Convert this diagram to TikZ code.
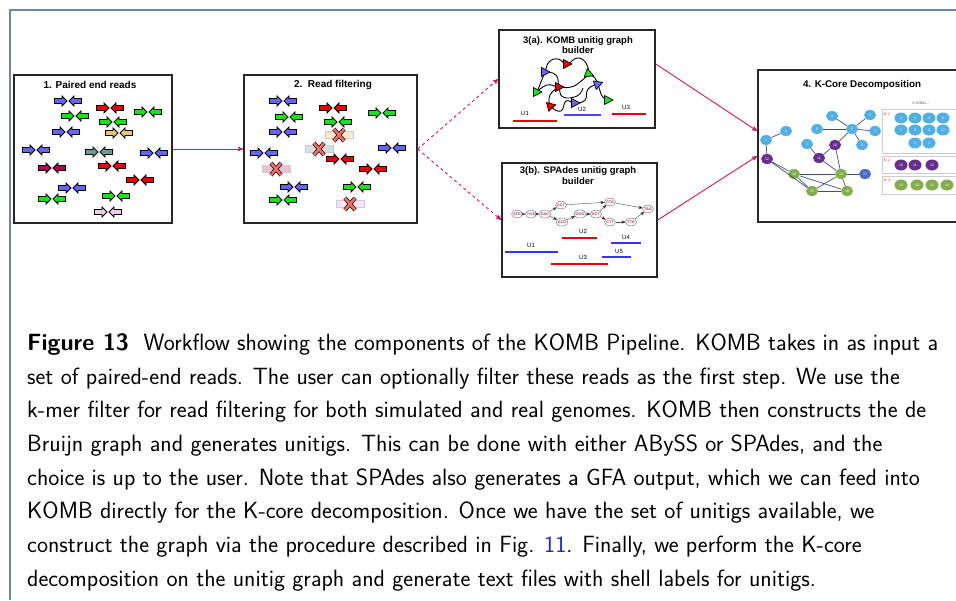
\documentclass[tikz,border=0pt]{standalone}
\usepackage{fontspec}
\newfontfamily\labelfont{Liberation Sans}
\usetikzlibrary{arrows,shapes,positioning}
\definecolor{framecol}{RGB}{105,135,175}
\definecolor{flowpink}{RGB}{214,20,100}
\definecolor{readblue}{RGB}{100,100,245}
\definecolor{readgreen}{RGB}{20,230,20}
\definecolor{readred}{RGB}{240,0,0}
\definecolor{readgold}{RGB}{240,195,100}
\definecolor{readteal}{RGB}{105,155,150}
\definecolor{readmaroon}{RGB}{175,0,90}
\definecolor{readpink}{RGB}{245,200,240}
\definecolor{crossred}{RGB}{240,110,100}
\definecolor{kmertext}{RGB}{190,40,110}
\definecolor{shellblue}{RGB}{80,175,230}
\definecolor{shellpurple}{RGB}{105,45,145}
\definecolor{shellgreen}{RGB}{130,175,75}
\definecolor{shelldark}{RGB}{70,110,190}
\definecolor{graphedge}{RGB}{60,80,125}
\definecolor{figref}{RGB}{30,30,230}
\tikzset{
  stage/.style={draw=black!85,line width=1.5pt,inner sep=0pt},
  stagetitle/.style={font=\labelfont\bfseries\fontsize{10}{11}\selectfont,align=center,inner sep=0pt},
  flow/.style={->,>=stealth',draw=flowpink,line width=0.9pt},
  captionline/.style={anchor=base west,inner sep=0pt,font=\sffamily\fontsize{23.5}{28}\selectfont},
  pics/readpair/.style={code={
    \draw[fill=#1,line width=0.9pt] (-13.5,-2.5) -- (-6,-2.5) -- (-6,-5) -- (-1,0) -- (-6,5) -- (-6,2.5) -- (-13.5,2.5) -- cycle;
    \draw[fill=#1,line width=0.9pt] (13.5,-2.5) -- (6,-2.5) -- (6,-5) -- (1,0) -- (6,5) -- (6,2.5) -- (13.5,2.5) -- cycle;
  }},
  pics/dropped/.style={code={
    \draw[fill=#1,draw=black!20,line width=0.5pt] (-14,-3.5) rectangle (14,3.5);
    \draw[black,line width=4pt] (-5,-6) -- (5,6) (-5,6) -- (5,-6);
    \draw[crossred,line width=2.6pt] (-5,-6) -- (5,6) (-5,6) -- (5,-6);
  }},
  pics/tip/.style={code={
    \draw[fill=#1,line width=0.7pt,line join=round] (-3.5,-4.5) -- (5,0) -- (-3.5,4.5) -- cycle;
  }},
  curve/.style={black,line width=0.9pt},
  unitig/.style={line width=2.4pt},
  ulabel/.style={font=\labelfont\fontsize{6}{6}\selectfont,inner sep=0pt},
  kmer/.style={ellipse,draw=black!60,line width=0.4pt,inner sep=0pt,minimum width=11pt,minimum height=8pt,
    font=\labelfont\bfseries\fontsize{3.8}{4}\selectfont,text=kmertext},
  kedge/.style={-stealth',draw=black!70,line width=0.4pt},
  gnode/.style={ellipse,inner sep=0pt,minimum width=12pt,minimum height=10pt,
    font=\labelfont\fontsize{3.5}{4}\selectfont,text=white,fill=#1},
  snode/.style={gnode=#1,minimum width=13pt,minimum height=11pt},
  gedge/.style={draw=graphedge,line width=0.7pt},
  shellbox/.style={draw=black!20,line width=0.8pt},
  shelltag/.style={font=\labelfont\fontsize{3.5}{4}\selectfont,text=red,inner sep=0pt}
}
\begin{document}
\begin{tikzpicture}[x=1pt,y=-1pt]
\useasboundingbox (0,0) rectangle (956,600);
\fill[white] (0,0) rectangle (956,600);
\draw[framecol,line width=1.2pt] (10,600) -- (10,10) -- (956,10);

% stage boxes
\node[stage,minimum width=158pt,minimum height=148pt] (reads) at (93,149) {};
\node[stage,minimum width=173pt,minimum height=148pt] (filter) at (330.5,149) {};
\node[stage,minimum width=156pt,minimum height=98pt] (komb) at (577,79) {};
\node[stage,minimum width=155pt,minimum height=114pt] (spades) at (579.5,220) {};
\node[stage,minimum width=204pt,minimum height=152pt] (kcore) at (860,146) {};

\node[stagetitle] (readstitle) at (90,85) {1. Paired end reads};
\node[stagetitle] (filtertitle) at (333,85) {2.\ \ Read filtering};
\node[stagetitle,font=\labelfont\bfseries\fontsize{9.5}{10.5}\selectfont] (kombtitle) at (578,45) {3(a). KOMB unitig graph\\builder};
\node[stagetitle,font=\labelfont\bfseries\fontsize{9.5}{10.5}\selectfont] (spadestitle) at (578,175.5) {3(b). SPAdes unitig graph\\builder};
\node[stagetitle,font=\labelfont\bfseries\fontsize{9.8}{11}\selectfont] (kcoretitle) at (862,85) {4. K-Core Decomposition};

% connectors
\draw[flow] (reads.east) -- (filter.west);
\draw[flow,dashed] (filter.east) -- (komb.west);
\draw[flow,dashed] (filter.east) -- (spades.west);
\draw[flow] ([yshift=15pt]komb.east) -- ([yshift=15pt]kcore.west);
\draw[flow] (spades.east) -- ([yshift=-10pt]kcore.west);

% 1. paired end reads
\foreach \px/\py/\pc in {68/101/readblue, 75/116/readgreen, 66/132/readblue, 110/108/readred,
  148/112/readgreen, 113/122/readgreen, 119/133/readgold, 36/150/readblue, 99/152/readteal,
  154/153/readblue, 52/168/readmaroon, 112/166/readred, 140/180/readred, 72/188/readblue,
  52/199/readgreen, 116/196/readgreen, 108/212/readpink}
  \pic at (\px,\py) {readpair=\pc};

% 2. read filtering
\foreach \px/\py/\pc in {283/101/readblue, 289/117/readgreen, 283/132/readblue, 333/108/readred,
  382/113/readgreen, 338/122/readgreen, 264/153/readblue, 392/148/readblue, 340/159/readred,
  373/169/readred, 294/187/readblue, 283/200/readgreen, 357/187/readgreen}
  \pic at (\px,\py) {readpair=\pc};
\pic at (339,135) {dropped=readgold!35};
\pic at (319,149) {dropped=readteal!30};
\pic at (276,169) {dropped=readmaroon!25};
\pic at (350,204) {dropped=readpink!50};

% 3(a). KOMB graph
\draw[curve] plot[smooth,tension=0.8] coordinates {(537,92) (541,82) (545,72) (549,62) (558,59) (567,64) (577,58) (586,63) (589,74)};
\draw[curve] plot[smooth,tension=0.8] coordinates {(537,92) (547,85) (559,87) (571,87) (580,82) (589,74)};
\draw[curve] plot[smooth,tension=0.8] coordinates {(559,87) (550,95) (551,106) (561,111) (566,101) (575,103) (585,100) (588,89) (598,84)};
\draw[curve] plot[smooth,tension=0.8] coordinates {(545,72) (556,75) (559,87) (563,97) (577,96) (583,88)};
\draw[curve] plot[smooth,tension=0.8] coordinates {(589,74) (595,78) (598,84) (601,94) (605,99) (608,100)};
\pic at (545,72) {tip=readblue};
\pic at (567,64) {tip=readred};
\pic[rotate=-20] at (589,74) {tip=readgreen};
\pic[rotate=20] at (598,84) {tip=readblue};
\pic at (537,92) {tip=readgreen};
\pic at (559,87) {tip=readred};
\pic[rotate=15] at (551,106) {tip=readred};
\pic at (575,103) {tip=readblue};
\pic at (608,100) {tip=readgreen};
\draw[unitig,readred] (513,121) -- (557,121);
\draw[unitig,readblue!70!blue] (564,115) -- (601,115);
\draw[unitig,readred] (612,114) -- (646,114);
\node[ulabel] (ka1) at (525,113) {U1};
\node[ulabel] (ka2) at (582,109) {U2};
\node[ulabel] (ka3) at (626,107) {U3};

% 3(b). SPAdes graph
\node[kmer] (atg) at (517,214) {ATG};
\node[kmer] (tga) at (531,214) {TGA};
\node[kmer] (gac) at (545,214) {GAC};
\node[kmer] (act) at (561,205) {ACT};
\node[kmer] (acg) at (562,222) {ACG};
\node[kmer] (cgg) at (580,214) {CGG};
\node[kmer] (gct) at (596,214) {GCT};
\node[kmer] (cta) at (610,202) {CTA};
\node[kmer] (ctt) at (610,222) {CTT};
\node[kmer] (tta) at (631,222) {TTA};
\node[kmer] (tag) at (648,209) {TAG};
\path[kedge]
  (atg) edge (tga)
  (tga) edge (gac)
  (gac) edge (act)
  (gac) edge (acg)
  (acg) edge (cgg)
  (cgg) edge (gct)
  (act) edge (cta)
  (gct) edge (cta)
  (gct) edge (ctt)
  (ctt) edge (tta)
  (tta) edge (tag)
  (cta) edge (tag);
\draw[unitig,readred] (562,238) -- (597,238);
\draw[unitig,blue!80] (611,243) -- (641,243);
\draw[unitig,blue!80] (505,252) -- (558,252);
\draw[unitig,readred] (551,264) -- (608,264);
\draw[unitig,blue!80] (602,257) -- (631,257);
\node[ulabel] (sb2) at (583,231) {U2};
\node[ulabel] (sb4) at (626,237) {U4};
\node[ulabel] (sb1) at (531,245) {U1};
\node[ulabel] (sb3) at (583,257) {U3};
\node[ulabel] (sb5) at (619,251) {U5};

% 4. K-core graph
\node[gnode=shellblue] (g1) at (766,140) {1};
\node[gnode=shellblue] (g2) at (786,131) {2};
\node[gnode=shellblue] (g3) at (807,144) {3};
\node[gnode=shellblue] (g4) at (832,116) {4};
\node[gnode=shellblue] (g5) at (852,129) {5};
\node[gnode=shellblue] (g6) at (870,115) {6};
\node[gnode=shellblue] (g7) at (875,131) {7};
\node[gnode=shellblue] (g8) at (817,129) {8};
\node[gnode=shellblue] (g9) at (862,145) {9};
\node[gnode=shellpurple] (g10) at (835,145) {10};
\node[gnode=shellpurple] (g11) at (819,158) {11};
\node[gnode=shellpurple] (g12) at (767,159) {12};
\node[gnode=shellgreen] (g13) at (841,174) {13};
\node[gnode=shellgreen] (g14) at (794,174) {14};
\node[gnode=shellgreen] (g15) at (812,191) {15};
\node[gnode=shellgreen] (g16) at (847,191) {16};
\node[gnode=shelldark] (g17) at (865,174) {17};
\path[gedge]
  (g1) edge (g2)  (g1) edge (g12)
  (g4) edge (g5)  (g8) edge (g5)  (g6) edge (g5)  (g5) edge (g7)  (g5) edge (g9)  (g5) edge (g10)
  (g3) edge (g11) (g10) edge (g11) (g10) edge (g13) (g11) edge (g13)
  (g12) edge (g14) (g12) edge (g15)
  (g14) edge (g13) (g14) edge (g15) (g14) edge (g16)
  (g13) edge (g15) (g13) edge (g16) (g15) edge (g16) (g13) edge (g17);

% k-shell panel
\node[font=\labelfont\fontsize{3.5}{4}\selectfont,text=black!70,inner sep=0pt] (shellhead) at (921,103) {K-SHELL :};
\draw[shellbox] (882,109) rectangle (962,153);
\draw[shellbox] (882,156) rectangle (962,173);
\draw[shellbox] (882,176) rectangle (962,194);
\node[shelltag] (k1) at (887,114) {K: 1};
\node[shelltag] (k2) at (887,160) {K: 2};
\node[shelltag] (k3) at (887,180) {K: 3};
\foreach \sx/\sy/\sn in {901/118/2, 915/118/8, 929/118/4, 943/118/6,
  901/130/7, 915/130/9, 929/130/3, 943/130/17, 915/143/5, 929/143/1}
  \node[snode=shellblue] (s\sn) at (\sx,\sy) {\sn};
\foreach \sx/\sy/\sn in {901/165/10, 915/165/11, 932/165/12}
  \node[snode=shellpurple] (s\sn) at (\sx,\sy) {\sn};
\foreach \sx/\sy/\sn in {901/185/13, 917/185/16, 932/185/15, 947/185/14}
  \node[snode=shellgreen] (s\sn) at (\sx,\sy) {\sn};

% caption
\node[captionline] (cap1) at (27,350) {\textbf{Figure 13}\ \ Workflow showing the components of the KOMB Pipeline. KOMB takes in as input a};
\node[captionline] (cap2) at (27,384) {set of paired-end reads. The user can optionally filter these reads as the first step. We use the};
\node[captionline] (cap3) at (27,417) {k-mer filter for read filtering for both simulated and real genomes. KOMB then constructs the de};
\node[captionline] (cap4) at (27,451) {Bruijn graph and generates unitigs. This can be done with either ABySS or SPAdes, and the};
\node[captionline] (cap5) at (27,485) {choice is up to the user. Note that SPAdes also generates a GFA output, which we can feed into};
\node[captionline] (cap6) at (27,518) {KOMB directly for the K-core decomposition. Once we have the set of unitigs available, we};
\node[captionline] (cap7) at (27,552) {construct the graph via the procedure described in Fig. \textcolor{figref}{11}. Finally, we perform the K-core};
\node[captionline] (cap8) at (27,586) {decomposition on the unitig graph and generate text files with shell labels for unitigs.};
\end{tikzpicture}
\end{document}
